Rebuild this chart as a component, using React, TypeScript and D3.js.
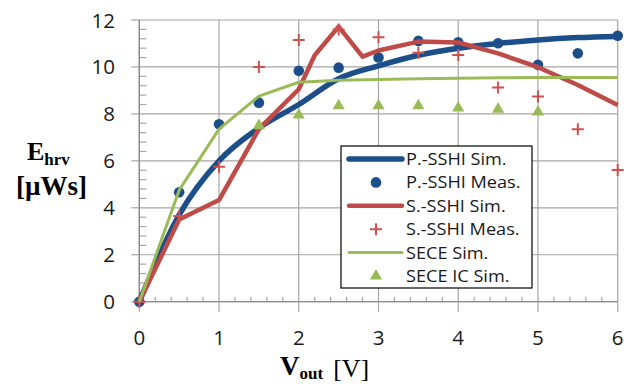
import React from "react";
import * as d3 from "d3";

// ---- data ----
const xVals = [0, 0.5, 1, 1.5, 2, 2.5, 3, 3.5, 4, 4.5, 5, 5.5, 6];
const pSshiSim = [0, 3.7, 6.0, 7.4, 8.4, 9.5, 10.05, 10.5, 10.8, 11.0, 11.15, 11.25, 11.3];
const pSshiMeas = [0, 4.66, 7.56, 8.48, 9.84, 9.97, 10.4, 11.11, 11.05, 11.01, 10.09, 10.58, 11.33];
const sSshiSimX = [0, 0.5, 1, 1.5, 2, 2.2, 2.5, 2.8, 3, 3.5, 4, 4.5, 5, 5.5, 6];
const sSshiSimY = [0, 3.5, 4.33, 7.35, 9.05, 10.5, 11.72, 10.44, 10.7, 11.08, 11.04, 10.58, 9.99, 9.23, 8.38];
const sSshiMeas = [0, 3.65, 5.75, 10.0, 11.15, 11.6, 11.27, 10.61, 10.51, 9.12, 8.74, 7.35, 5.61];
const seceSim = [0, 4.75, 7.35, 8.76, 9.35, 9.43, 9.47, 9.5, 9.52, 9.54, 9.55, 9.55, 9.55];
const seceIcX = [1.5, 2, 2.5, 3, 3.5, 4, 4.5, 5];
const seceIcY = [7.5, 7.95, 8.35, 8.35, 8.35, 8.25, 8.2, 8.08];

const xTicks = [0, 1, 2, 3, 4, 5, 6];
const yTicks = [0, 2, 4, 6, 8, 10, 12];
const legendLabels = [
  "P.-SSHI Sim.",
  "P.-SSHI Meas.",
  "S.-SSHI Sim.",
  "S.-SSHI Meas.",
  "SECE Sim.",
  "SECE IC Sim.",
];

const BLUE = "#1c4f8a";
const RED = "#be4b48";
const RED_M = "#d0504f";
const GREEN = "#9bbb59";
const GRID = "#a6a6a6";

export default function App() {
  const W = 635, H = 386;
  const x = d3.scaleLinear().domain([0, 6]).range([139.3, 617.7]);
  const y = d3.scaleLinear().domain([0, 12]).range([301.7, 20]);

  const xMinor = d3.range(0, 6.0001, 0.2).filter((v) => Math.abs(v - Math.round(v)) > 1e-6);
  const yMinor = d3.range(0, 12.0001, 0.4).filter((v) => Math.abs(v / 2 - Math.round(v / 2)) > 1e-6);

  const lineLin = d3.line<[number, number]>().x((d) => x(d[0])).y((d) => y(d[1]));
  const lineSmooth = d3
    .line<[number, number]>()
    .x((d) => x(d[0]))
    .y((d) => y(d[1]))
    .curve(d3.curveMonotoneX);

  const pSimPts = xVals.map((v, i) => [v, pSshiSim[i]] as [number, number]);
  const sSimPts = sSshiSimX.map((v, i) => [v, sSshiSimY[i]] as [number, number]);
  const gSimPts = xVals.map((v, i) => [v, seceSim[i]] as [number, number]);

  const tri = d3.symbol(d3.symbolTriangle, 64)() as string;

  const plus = (cx: number, cy: number, k: string | number) => (
    <path
      key={k}
      d={`M${cx - 6},${cy}H${cx + 6}M${cx},${cy - 6}V${cy + 6}`}
      stroke={RED_M}
      strokeWidth={2}
      fill="none"
    />
  );

  const legX = 341, legY = 146, legW = 191, legH = 142;
  const rowY = (i: number) => 159 + i * 23.4;

  return (
    <svg
      width={W}
      height={H}
      style={{ position: "absolute", left: 0, top: 0, background: "#fff" }}
      fontFamily="'Open Sans', sans-serif"
    >
      <rect width={W} height={H} fill="#fff" />
      {/* grid */}
      {yTicks.map((t) => (
        <line key={"gy" + t} x1={x(0)} x2={x(6)} y1={y(t)} y2={y(t)} stroke={GRID} strokeWidth={1.2} />
      ))}
      {xTicks.map((t) => (
        <line key={"gx" + t} x1={x(t)} x2={x(t)} y1={y(12)} y2={y(0) + 10} stroke={GRID} strokeWidth={1.2} />
      ))}
      {/* y major ticks outward */}
      {yTicks.map((t) => (
        <line key={"ty" + t} x1={x(0) - 8} x2={x(0)} y1={y(t)} y2={y(t)} stroke={GRID} strokeWidth={1.2} />
      ))}
      {/* minor ticks inward */}
      {xMinor.map((t, i) => (
        <line key={"mx" + i} x1={x(t)} x2={x(t)} y1={y(0)} y2={y(0) - 5} stroke={GRID} strokeWidth={1.2} />
      ))}
      {yMinor.map((t, i) => (
        <line key={"my" + i} x1={x(0)} x2={x(0) + 7} y1={y(t)} y2={y(t)} stroke={GRID} strokeWidth={1.2} />
      ))}
      {/* axes */}
      <line x1={x(0)} x2={x(0)} y1={y(0)} y2={y(12)} stroke="#8c8c8c" strokeWidth={1.3} />
      <line x1={x(0)} x2={x(6)} y1={y(0)} y2={y(0)} stroke="#8c8c8c" strokeWidth={1.3} />

      {/* tick labels */}
      {yTicks.map((t) => (
        <text key={"ly" + t} x={115} y={y(t) + 7.5} textAnchor="end" fontSize={20.5} fill="#1a1a1a">
          {t}
        </text>
      ))}
      {xTicks.map((t) => (
        <text key={"lx" + t} x={x(t)} y={345} textAnchor="middle" fontSize={20.5} fill="#1a1a1a">
          {t}
        </text>
      ))}

      {/* series */}
      <path d={lineSmooth(pSimPts) as string} fill="none" stroke={BLUE} strokeWidth={5.5} strokeLinejoin="round" />
      {xVals.map((v, i) => (
        <circle key={"pm" + i} cx={x(v)} cy={y(pSshiMeas[i])} r={5.3} fill={BLUE} />
      ))}
      <path d={lineLin(sSimPts) as string} fill="none" stroke={RED} strokeWidth={4.5} strokeLinejoin="round" />
      {xVals.map((v, i) => plus(x(v), y(sSshiMeas[i]), "sm" + i))}
      <path d={lineLin(gSimPts) as string} fill="none" stroke={GREEN} strokeWidth={3} strokeLinejoin="round" />
      {seceIcX.map((v, i) => (
        <path key={"gi" + i} d={tri} transform={`translate(${x(v)},${y(seceIcY[i])})`} fill={GREEN} />
      ))}

      {/* legend */}
      <rect x={legX} y={legY} width={legW} height={legH} fill="#fff" stroke="#000" strokeWidth={1.2} />
      {legendLabels.map((lab, i) => {
        const cy = rowY(i);
        let sample: React.ReactNode = null;
        if (i === 0) sample = <line x1={349} x2={402} y1={cy} y2={cy} stroke={BLUE} strokeWidth={5.5} strokeLinecap="round" />;
        if (i === 1) sample = <circle cx={376} cy={cy} r={5.3} fill={BLUE} />;
        if (i === 2) sample = <line x1={349} x2={402} y1={cy} y2={cy} stroke={RED} strokeWidth={4.5} strokeLinecap="round" />;
        if (i === 3) sample = plus(376, cy, "lp");
        if (i === 4) sample = <line x1={349} x2={402} y1={cy} y2={cy} stroke={GREEN} strokeWidth={3} strokeLinecap="round" />;
        if (i === 5) sample = <path d={tri} transform={`translate(376,${cy})`} fill={GREEN} />;
        return (
          <g key={"lg" + i}>
            {sample}
            <text
              x={406}
              y={cy + 6}
              fontSize={16.5}
              fill="#1a1a1a"
              transform={`translate(406,0) scale(1.1,1) translate(-406,0)`}
            >
              {lab}
            </text>
          </g>
        );
      })}

      {/* y title */}
      <text x={27} y={159.5} fontFamily="'Liberation Serif', serif" fontWeight="bold" fill="#000">
        <tspan fontSize={26}>E</tspan>
        <tspan fontSize={17} dy={5.5}>hrv</tspan>
      </text>
      <text x={51.5} y={195} textAnchor="middle" fontFamily="'Liberation Serif', serif" fontWeight="bold" fontSize={27} fill="#000">
        [µWs]
      </text>

      {/* x title */}
      <text x={280} y={375} fontFamily="'Liberation Serif', serif" fill="#000">
        <tspan fontSize={27} fontWeight="bold">V</tspan>
        <tspan fontSize={17} fontWeight="bold" dy={3.5}>out</tspan>
        <tspan fontSize={26} dy={-1.5} dx={10}>[V]</tspan>
      </text>
    </svg>
  );
}
